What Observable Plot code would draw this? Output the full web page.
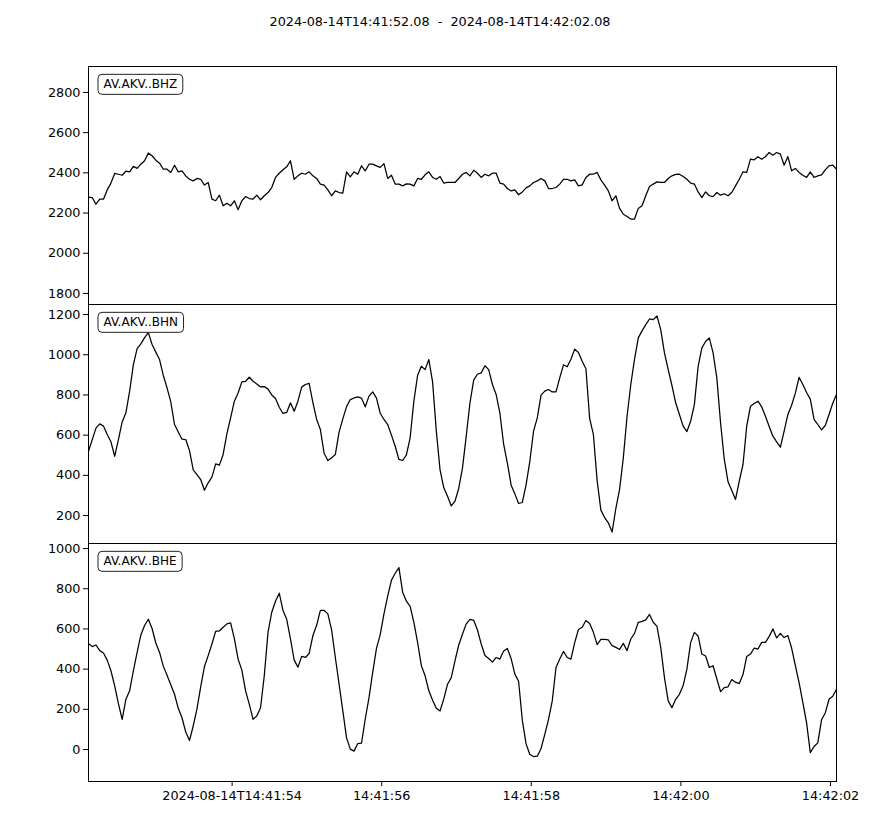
<!DOCTYPE html>
<html><head><meta charset="utf-8">
<script src="https://cdn.jsdelivr.net/npm/d3@7"></script>
<script src="https://cdn.jsdelivr.net/npm/@observablehq/plot@0.6"></script>
<style>
body{margin:0;background:#fff;}
#chart{position:relative;width:880px;height:825px;font-family:"DejaVu Sans",sans-serif;background:#fff;}
#title{position:absolute;top:14px;left:0;width:880px;text-align:center;font-size:12.8px;line-height:16px;color:#000;white-space:pre;}
</style></head><body>
<div id="chart"><div id="title"></div></div>
<script>
const startISO = "2024-08-14T14:41:52.08";
const endISO = "2024-08-14T14:42:02.08";
const sampleInterval = 0.05; // seconds
const channels = ["AV.AKV..BHZ", "AV.AKV..BHN", "AV.AKV..BHE"];

const bhz = [2279,2277,2244,2269,2269,2315,2349,2397,2393,2388,
2408,2405,2432,2422,2443,2460,2498,2485,2463,2448,
2418,2418,2402,2438,2405,2410,2385,2368,2360,2372,
2368,2339,2352,2269,2261,2289,2236,2249,2236,2261,
2216,2261,2282,2272,2269,2289,2266,2286,2302,2327,
2377,
2398,2415,2430,2460,2368,2385,2398,2393,2405,2385,
2372,2344,2339,2315,2286,2310,2302,2299,2405,2380,
2405,2393,2435,2410,2443,2443,2435,2427,2446,2372,
2388,2344,2344,2335,2345,2344,2335,2372,2368,2390,
2405,2377,2368,2382,2349,2352,2352,2352,2372,2393,
2402,2385,2413,2398,2377,2393,2385,2398,2398,2349,
2344,2322,2310,2315,2291,2305,2325,2335,2352,2360,
2372,2360,2322,2322,2327,2344,2368,2368,2360,2365,
2335,2340,2377,2393,2393,2402,2365,2339,2310,2261,
2286,2223,2194,2183,2170,2170,2223,2236,2286,2332,
2344,2355,2352,2352,2372,2385,2392,2393,2382,2368,
2349,2344,2305,2277,2305,2286,2282,2302,2289,2296,
2286,2302,2335,2368,2405,2402,2468,2465,2480,2468,
2480,2501,2488,2501,2493,2438,2481,2410,2422,2402,
2388,2377,2405,2377,2385,2390,2415,2435,2438,2418];

const bhn = [520,578,635,656,645,603,567,495,578,666,
711,819,951,1031,1054,1085,1110,1051,1013,976,
897,835,766,653,616,580,578,524,427,404,
379,326,363,391,457,451,504,606,686,769,
810,865,868,888,868,855,840,842,829,800,
782,
739,708,713,761,719,769,839,852,858,762,
678,628,510,474,487,504,615,681,742,777,
785,790,784,741,794,815,784,709,678,653,
600,545,479,474,502,587,769,898,943,926,
976,865,620,427,338,296,248,272,336,437,
595,761,875,903,910,945,926,852,802,709,
555,461,351,308,260,265,353,470,620,686,
799,819,827,815,815,885,950,940,978,1028,
1011,968,930,683,603,374,227,190,164,118,
235,330,487,694,852,978,1084,1119,1150,1178,
1175,1193,1125,1009,926,847,761,703,645,618,
669,752,941,1034,1066,1084,1009,885,661,479,
368,325,280,371,454,645,744,757,769,741,
694,643,595,567,540,620,703,749,809,888,
852,812,779,679,653,626,648,703,759,802];

const bhe = [528,512,520,492,480,445,392,317,228,150,
250,292,392,483,570,617,648,602,530,483,
415,370,322,275,205,158,87,45,117,202,
312,413,467,525,588,590,608,625,630,552,
450,395,292,225,150,167,208,367,583,683,
738,
778,692,648,550,445,410,463,458,478,567,
618,692,692,675,595,458,325,192,58,2,
-8,30,32,152,258,385,503,572,675,763,
842,877,905,783,738,712,633,532,417,367,
292,245,205,192,252,325,358,442,520,575,
625,648,643,595,525,468,453,435,458,450,
490,503,452,375,340,145,28,-25,-35,-33,
5,75,150,242,408,450,488,458,450,532,
597,608,642,627,583,522,548,548,545,517,
508,498,528,492,550,578,633,638,645,672,
633,613,508,358,242,208,250,275,318,400,
532,583,565,475,465,408,417,352,288,308,
312,348,335,328,373,463,475,505,500,533,
533,563,600,555,578,557,567,505,417,333,
233,133,-15,15,33,148,182,250,265,300];

const yTicksZ = [1800, 2000, 2200, 2400, 2600, 2800];
const yTicksN = [200, 400, 600, 800, 1000, 1200];
const yTicksE = [0, 200, 400, 600, 800, 1000];
const yDomainZ = [1745, 2929];
const yDomainN = [61, 1250];
const yDomainE = [-159, 1025];

const xTickTimes = ["2024-08-14T14:41:54", "2024-08-14T14:41:56", "2024-08-14T14:41:58", "2024-08-14T14:42:00", "2024-08-14T14:42:02"];
const xTickLabels = ["2024-08-14T14:41:54", "14:41:56", "14:41:58", "14:42:00", "14:42:02"];

// ---- build ----
const start = new Date(startISO + "0Z");
const end = new Date(endISO + "0Z");
const xTickDates = xTickTimes.map(s => new Date(s + "Z"));
const labelMap = new Map(xTickDates.map((d, i) => [+d, xTickLabels[i]]));

document.getElementById("title").textContent = startISO + "  -  " + endISO;

const panels = [
  {values: bhz, channel: channels[0], domain: yDomainZ, ticks: yTicksZ, top: 66, h: 238},
  {values: bhn, channel: channels[1], domain: yDomainN, ticks: yTicksN, top: 304, h: 239},
  {values: bhe, channel: channels[2], domain: yDomainE, ticks: yTicksE, top: 543, h: 238}
];

const chart = document.getElementById("chart");

panels.forEach((p, idx) => {
  const isLast = idx === panels.length - 1;
  const data = p.values.map((v, i) => ({time: new Date(start.getTime() + Math.round(i * sampleInterval * 1000)), value: v}));
  const mt = 1, mb = isLast ? 45 : 1;
  const svg = Plot.plot({
    width: 880,
    height: p.h + mt + mb,
    marginLeft: 88, marginRight: 44, marginTop: mt, marginBottom: mb,
    style: {background: "transparent", overflow: "visible", fontFamily: "DejaVu Sans, sans-serif", fontSize: "12.8px", color: "black"},
    x: isLast
      ? {type: "utc", domain: [start, end], ticks: xTickDates, tickFormat: d => labelMap.get(+d), tickSize: 5, tickPadding: 4, label: null}
      : {type: "utc", domain: [start, end], axis: null},
    y: {domain: p.domain, ticks: p.ticks, tickFormat: d => String(d), tickSize: 5, tickPadding: 3, label: null},
    marks: [
      Plot.line(data, {x: "time", y: "value", stroke: "black", strokeWidth: 1.25}),
      Plot.frame({stroke: "black", strokeWidth: 1}),
      Plot.text([p.channel], {frameAnchor: "top-left", dx: 15, dy: 18, textAnchor: "start", lineAnchor: "middle", fontSize: 12, fill: "black"})
    ]
  });
  svg.style.position = "absolute";
  svg.style.left = "0px";
  svg.style.top = (p.top - mt) + "px";
  chart.appendChild(svg);

  // rounded box behind the channel label
  const t = svg.querySelector('g[aria-label="text"] text');
  if (t) {
    const bb = t.getBBox();
    const r = document.createElementNS("http://www.w3.org/2000/svg", "rect");
    r.setAttribute("x", bb.x - 5.5);
    r.setAttribute("y", bb.y - 3);
    r.setAttribute("width", bb.width + 11);
    r.setAttribute("height", bb.height + 6);
    r.setAttribute("rx", 4);
    r.setAttribute("fill", "white");
    r.setAttribute("stroke", "#222");
    r.setAttribute("stroke-width", 1);
    const tr = t.getAttribute("transform");
    if (tr) r.setAttribute("transform", tr);
    t.parentNode.insertBefore(r, t);
  }
});
</script>
</body></html>
